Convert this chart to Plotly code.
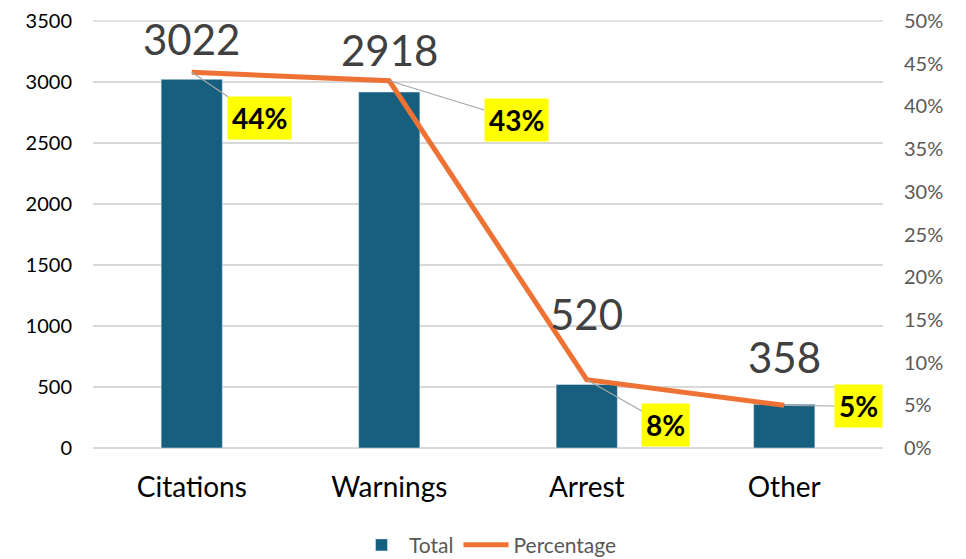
import plotly.graph_objects as go

categories = ["Citations", "Warnings", "Arrest", "Other"]
totals = [3022, 2918, 520, 358]
percentages = [0.44, 0.43, 0.08, 0.05]
pct_labels = ["44%", "43%", "8%", "5%"]

bar_color = "#175F7F"
line_color = "#ED7234"
font_family = "Lato, 'Open Sans', sans-serif"

fig = go.Figure()

fig.add_trace(go.Bar(
    x=categories, y=totals, name="Total",
    marker_color=bar_color, width=0.31,
))

fig.add_trace(go.Scatter(
    x=categories, y=percentages, name="Percentage",
    mode="lines", line=dict(color=line_color, width=5),
    yaxis="y2",
))

# big value labels above the bars
value_shifts = [13, 15, 44, 20]
for cat, val, shift in zip(categories, totals, value_shifts):
    fig.add_annotation(
        x=cat, y=val, text=str(val), showarrow=False,
        yanchor="bottom", yshift=shift,
        font=dict(size=42, color="#404040", family=font_family),
    )

# percentage callouts with leader lines
offsets = [(68, 46), (127, 39), (79, 45), (74, 1)]
for cat, p, lab, (ax, ay) in zip(categories, percentages, pct_labels, offsets):
    fig.add_annotation(
        x=cat, y=p, yref="y2", text="<b>" + lab + "</b>",
        showarrow=True, arrowhead=0, arrowwidth=1.2, arrowcolor="#A6A6A6",
        ax=ax, ay=ay, bgcolor="#FFFF00", borderpad=4,
        font=dict(size=28, color="#000000", family=font_family),
    )

# top gridline (plotly leaves it out at the range edge)
fig.add_shape(type="line", xref="paper", yref="paper", x0=0, x1=1, y0=1, y1=1,
              line=dict(color="#D9D9D9", width=1.5), layer="below")

# page body has an 8px margin, so the figure is 8px smaller
fig.update_layout(
    width=958, height=551,
    margin=dict(l=85, r=83, t=13, b=111, autoexpand=False),
    plot_bgcolor="white", paper_bgcolor="white",
    font=dict(family=font_family),
    bargap=0.69,
    showlegend=True,
    legend=dict(
        orientation="h", x=0.5, xanchor="center",
        yref="container", y=0.025, yanchor="middle",
        font=dict(size=21, color="#595959"),
        itemwidth=45,
    ),
    xaxis=dict(
        tickfont=dict(size=28, color="#000000"),
        showgrid=False, showline=False, ticks="",
        ticklabelstandoff=20, automargin=False,
    ),
    yaxis=dict(
        range=[0, 3500], dtick=500,
        tickfont=dict(size=20, color="#000000"),
        showgrid=True, gridcolor="#D9D9D9", gridwidth=1.5,
        zeroline=True, zerolinecolor="#D9D9D9", zerolinewidth=1.5,
        ticks="", ticklabelstandoff=20, automargin=False,
        ticklabeloverflow="allow",
    ),
    yaxis2=dict(
        range=[0, 0.5], dtick=0.05, tickformat=".0%",
        overlaying="y", side="right",
        tickfont=dict(size=20, color="#595959"),
        showgrid=False, zeroline=False, ticks="",
        ticklabelstandoff=20, automargin=False,
        ticklabeloverflow="allow",
    ),
)

fig.write_html("out.html")
